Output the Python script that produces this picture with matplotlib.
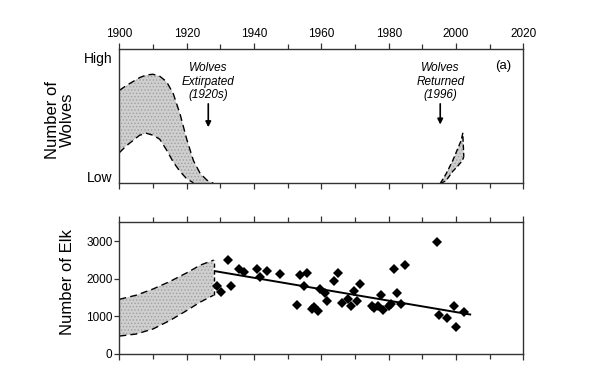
import matplotlib
matplotlib.use("Agg")
import matplotlib.pyplot as plt
from matplotlib.ticker import MultipleLocator, NullFormatter

plt.rcParams['font.family'] = ['Liberation Sans', 'DejaVu Sans']
plt.rcParams['hatch.linewidth'] = 0.6

# wolves, relative scale 0 (Low) .. 1
wolf_years = [1900, 1902, 1904, 1906, 1908, 1910, 1912, 1914, 1916, 1918, 1920, 1922, 1924, 1926, 1928]
wolf_upper = [0.695, 0.73, 0.76, 0.79, 0.81, 0.815, 0.80, 0.76, 0.67, 0.52, 0.33, 0.17, 0.075, 0.025, 0.0]
wolf_lower = [0.23, 0.28, 0.32, 0.36, 0.375, 0.36, 0.33, 0.25, 0.16, 0.09, 0.035, 0.005, 0.0, 0.0, 0.0]

return_years = [1995.3, 1997.0, 1999.0, 2000.5, 2001.5, 2002.0, 2002.3]
return_upper = [0.0, 0.07, 0.17, 0.26, 0.32, 0.375, 0.20]
return_lower = [0.0, 0.02, 0.09, 0.13, 0.16, 0.18, 0.20]

# elk
elk_band_years = [1900, 1905, 1910, 1915, 1920, 1924, 1928]
elk_upper = [1450, 1560, 1725, 1925, 2155, 2360, 2495]
elk_lower = [470, 525, 660, 885, 1150, 1375, 1560]

elk_years = [1928.9, 1930.1, 1932.2, 1933.2, 1935.6, 1937.0, 1940.9, 1941.9, 1943.9, 1947.8,
             1952.7, 1953.6, 1954.9, 1955.8, 1957.3, 1957.9, 1959.1, 1959.7, 1961.1, 1961.8,
             1963.6, 1965.0, 1966.1, 1967.8, 1968.8, 1969.6, 1970.7, 1971.6, 1975.0, 1975.7,
             1976.9, 1977.7, 1978.4, 1980.1, 1980.7, 1981.6, 1982.4, 1983.7, 1984.9, 1994.4,
             1995.0, 1997.3, 1999.4, 2000.1, 2002.4]
elk_counts = [1815, 1650, 2490, 1800, 2250, 2180, 2260, 2055, 2200, 2130,
              1310, 2100, 1815, 2145, 1190, 1255, 1135, 1725, 1615, 1395,
              1925, 2145, 1355, 1450, 1265, 1670, 1400, 1850, 1280, 1210,
              1265, 1560, 1160, 1280, 1325, 2250, 1630, 1325, 2365, 2980,
              1025, 950, 1280, 705, 1115]

fit_years = [1928.4, 2004.2]
fit_counts = [2200, 1045]

dash = (0, (5, 3))
fill_kw = dict(facecolor='#cfcfcf', edgecolor='#a0a0a0', hatch='.....', linewidth=0)
frame_col = '#333333'

fig = plt.figure(figsize=(6, 3.71), dpi=100)
ax1 = fig.add_axes([0.199, 0.5054, 0.6733, 0.3612])
ax2 = fig.add_axes([0.199, 0.0466, 0.6733, 0.354])

for ax in (ax1, ax2):
    ax.set_xlim(1900, 2020)
    ax.xaxis.set_major_locator(MultipleLocator(20))
    ax.xaxis.set_minor_locator(MultipleLocator(10))
    for s in ax.spines.values():
        s.set_color(frame_col)
        s.set_linewidth(1.0)
    ax.tick_params(axis='x', which='both', direction='out', top=True, bottom=True,
                   color=frame_col, width=0.9)
    ax.tick_params(axis='x', which='major', length=4.5)
    ax.tick_params(axis='x', which='minor', length=3.5)

# (a) wolves
ax1.fill_between(wolf_years, wolf_lower, wolf_upper, **fill_kw)
ax1.plot(wolf_years, wolf_upper, color='black', lw=1, ls=dash)
ax1.plot(wolf_years[:12], wolf_lower[:12], color='black', lw=1, ls=dash)
ax1.fill_between(return_years, return_lower, return_upper, **fill_kw)
ax1.plot(return_years, return_upper, color='black', lw=1, ls=(0, (4, 2)))
ax1.plot(return_years, return_lower, color='black', lw=1, ls=(0, (4, 2)))

ax1.set_ylim(0, 1)
ax1.set_yticks([0.05, 0.94])
ax1.set_yticklabels(['Low', 'High'], fontsize=10)
ax1.tick_params(axis='y', length=0, pad=5)
ax1.tick_params(axis='x', labeltop=True, labelbottom=False, labelsize=8.5, pad=2.5)

ax1.annotate('Wolves\nExtirpated\n(1920s)', xy=(1926.4, 0.42), xytext=(1926.4, 0.615),
             ha='center', va='bottom', fontsize=8.5, style='italic', linespacing=1.15,
             arrowprops=dict(arrowstyle='-|>', color='black', lw=1.2, mutation_scale=8,
                             shrinkA=0, shrinkB=0))
ax1.annotate('Wolves\nReturned\n(1996)', xy=(1995.3, 0.44), xytext=(1995.3, 0.615),
             ha='center', va='bottom', fontsize=8.5, style='italic', linespacing=1.15,
             arrowprops=dict(arrowstyle='-|>', color='black', lw=1.2, mutation_scale=8,
                             shrinkA=0, shrinkB=0))
ax1.text(2014, 0.875, '(a)', ha='center', va='center', fontsize=9.5)

# (b) elk
ax2.fill_between(elk_band_years, elk_lower, elk_upper, **fill_kw)
ax2.plot(elk_band_years, elk_upper, color='black', lw=1, ls=dash)
ax2.plot(elk_band_years, elk_lower, color='black', lw=1, ls=dash)
ax2.vlines(elk_band_years[-1], elk_lower[-1], elk_upper[-1], color='black', lw=1, ls=(0, (3, 2)))
ax2.plot(fit_years, fit_counts, color='black', lw=1.4)
ax2.plot(elk_years, elk_counts, 'D', color='black', markersize=5.3, markeredgewidth=0)

ax2.set_ylim(0, 3500)
ax2.set_yticks([0, 1000, 2000, 3000])
ax2.tick_params(axis='y', direction='out', length=3.5, width=0.9, color=frame_col,
                labelsize=8.5, pad=1.5)
ax2.tick_params(axis='x', labeltop=False, labelbottom=False)
ax2.xaxis.set_major_formatter(NullFormatter())
ax2.text(2014, 0.866, '(b)', transform=ax2.get_yaxis_transform(), ha='center',
         va='center', fontsize=9.5)

fig.text(0.10, 0.677, 'Number of\nWolves', rotation=90, ha='center', va='center',
         fontsize=12, linespacing=1.0)
fig.text(0.113, 0.241, 'Number of Elk', rotation=90, ha='center', va='center', fontsize=12)

fig.savefig('out.png', dpi=100)
